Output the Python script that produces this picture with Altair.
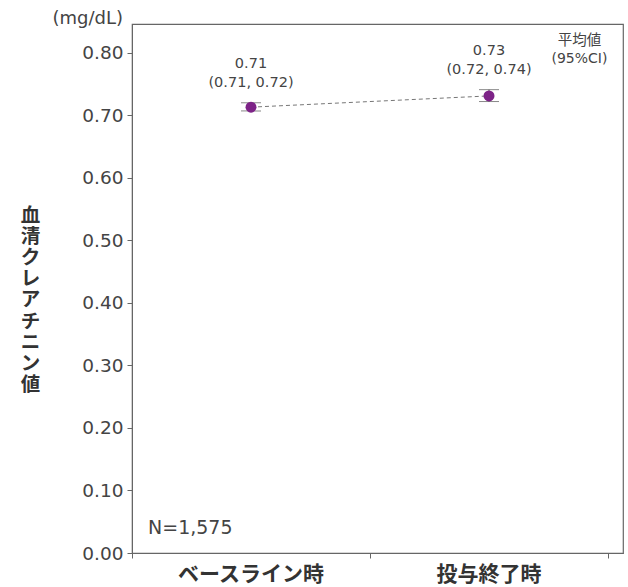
import altair as alt
import pandas as pd

categories = ["ベースライン時", "投与終了時"]
x_pos = [0.5, 1.5]
means = [0.713, 0.731]
ci_low = [0.707, 0.722]
ci_high = [0.720, 0.741]
mean_labels = ["0.71", "0.73"]
ci_labels = ["(0.71, 0.72)", "(0.72, 0.74)"]
y_ticks = [0.0, 0.1, 0.2, 0.3, 0.4, 0.5, 0.6, 0.7, 0.8]
n_label = "N=1,575"
y_title = "血清クレアチニン値"

JP = "Noto Sans CJK JP"
NUM = "DejaVu Sans"
GRAY = "#444444"
PURPLE = "#7d2387"

df = pd.DataFrame({
    "x": x_pos, "cat": categories, "mean": means, "lo": ci_low, "hi": ci_high,
    "m": mean_labels, "c": ci_labels,
})

xs = alt.Scale(domain=[0, 2.063], nice=False, zero=False)
ys = alt.Scale(domain=[0, 0.846], nice=False, zero=False)

X = alt.X("x:Q", scale=xs, axis=alt.Axis(values=[0, 1, 2], labels=False, title=None,
                                         grid=False, tickSize=5, domainColor="#666",
                                         tickColor="#666"))
Y = alt.Y("mean:Q", scale=ys, axis=alt.Axis(
    values=y_ticks, format=".2f", grid=False, tickSize=5, labelFontSize=18.5,
    labelColor=GRAY, labelFont=NUM, domainColor="#666", tickColor="#666", labelPadding=4,
    title=list(y_title), titleAngle=0, titleFont=JP, titleFontSize=19.5,
    titleFontWeight="bold", titleColor="#333", titleX=-102, titleY=191,
    titleAlign="center", titleBaseline="middle", titleLineHeight=21.2))

base = alt.Chart(df)

line = base.mark_line(color="#777", strokeDash=[4, 3], strokeWidth=1).encode(x=X, y=Y)
caps_hi = base.mark_tick(color="#555", thickness=1, size=20, orient="horizontal").encode(
    x="x:Q", y=alt.Y("hi:Q", scale=ys))
caps_lo = base.mark_tick(color="#555", thickness=1, size=20, orient="horizontal").encode(
    x="x:Q", y=alt.Y("lo:Q", scale=ys))
vbar = base.mark_rule(color="#555", strokeWidth=1).encode(
    x="x:Q", y=alt.Y("lo:Q", scale=ys), y2="hi:Q")
pts = base.mark_point(filled=True, opacity=1, color=PURPLE, size=120).encode(
    x="x:Q", y=alt.Y("mean:Q", scale=ys))
mlabels = base.mark_text(font=NUM, fontSize=14.5, color=GRAY, baseline="middle", dy=-39).encode(
    x="x:Q", y=alt.Y("hi:Q", scale=ys), text="m:N")
clabels = base.mark_text(font=NUM, fontSize=14.5, color=GRAY, baseline="middle", dy=-20).encode(
    x="x:Q", y=alt.Y("hi:Q", scale=ys), text="c:N")
xlabels = base.mark_text(font=JP, fontSize=21, fontWeight="bold", color="#333",
                         baseline="middle", dy=22).encode(
    x="x:Q", y=alt.datum(0, scale=ys), text="cat:N")

nlab = alt.Chart(pd.DataFrame({"x": [0.0], "y": [0.0]})).mark_text(
    font=NUM, fontSize=19, color=GRAY, align="left", baseline="middle", dx=16, dy=-25,
    text=n_label).encode(x=alt.X("x:Q", scale=xs), y=alt.Y("y:Q", scale=ys))
unit = alt.Chart(pd.DataFrame({"x": [0.0], "y": [0.846]})).mark_text(
    font=NUM, fontSize=18, color=GRAY, align="right", baseline="middle", dx=-9, dy=-5,
    text="(mg/dL)").encode(x=alt.X("x:Q", scale=xs), y=alt.Y("y:Q", scale=ys))
leg1 = alt.Chart(pd.DataFrame({"x": [1.88], "y": [0.82]})).mark_text(
    font=JP, fontSize=14.5, color=GRAY, align="center", baseline="middle", dy=1,
    text="平均値").encode(x=alt.X("x:Q", scale=xs), y=alt.Y("y:Q", scale=ys))
leg2 = alt.Chart(pd.DataFrame({"x": [1.88], "y": [0.82]})).mark_text(
    font=NUM, fontSize=14, color=GRAY, align="center", baseline="middle", dy=19,
    text="(95%CI)").encode(x=alt.X("x:Q", scale=xs), y=alt.Y("y:Q", scale=ys))

chart = alt.layer(line, vbar, caps_hi, caps_lo, pts, mlabels, clabels, xlabels,
                  nlab, unit, leg1, leg2).properties(
    width=491, height=529,
    autosize=alt.AutoSizeParams(type="none"),
    padding={"left": 132, "top": 24, "right": 5, "bottom": 34},
).configure_view(stroke="#666", strokeWidth=1.2)

chart.save("out.html", embed_options={"renderer": "svg", "actions": False})
